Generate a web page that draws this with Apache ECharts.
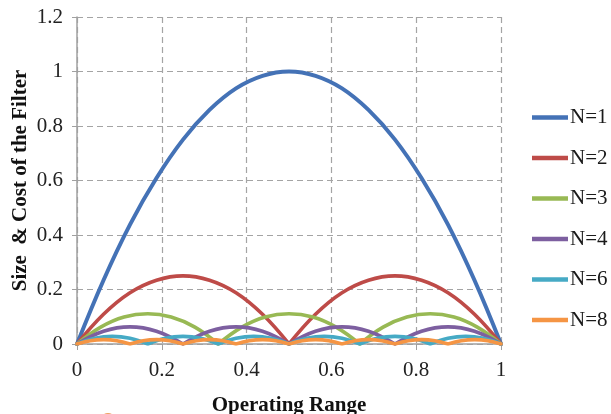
<!DOCTYPE html>
<html>
<head>
<meta charset="utf-8">
<script src="https://cdn.jsdelivr.net/npm/echarts@6/dist/echarts.min.js"></script>
<style>
  html, body { margin: 0; padding: 0; background: #fff; }
  #chart { width: 611px; height: 414px; }
</style>
</head>
<body>
<div id="chart"></div>
<script>
// Normalised size & cost of the filter across the operating range,
// one curve per number of stages N.
const seriesNames = ['N=1', 'N=2', 'N=3', 'N=4', 'N=6', 'N=8'];
const seriesColors = ['#4472b6', '#be4b48', '#98b954', '#7d5fa0', '#46aac5', '#f59544'];

const xN1 = [0, 0.0625, 0.125, 0.1875, 0.25, 0.3125, 0.375, 0.4375, 0.5, 0.5625, 0.625, 0.6875, 0.75, 0.8125, 0.875, 0.9375, 1];
const yN1 = [0, 0.234, 0.438, 0.609, 0.75, 0.859, 0.938, 0.984, 1, 0.984, 0.938, 0.859, 0.75, 0.609, 0.438, 0.234, 0];

const xN2 = [0, 0.0625, 0.125, 0.1875, 0.25, 0.3125, 0.375, 0.4375, 0.5, 0.5625, 0.625, 0.6875, 0.75, 0.8125, 0.875, 0.9375, 1];
const yN2 = [0, 0.109, 0.188, 0.234, 0.25, 0.234, 0.188, 0.109, 0, 0.109, 0.188, 0.234, 0.25, 0.234, 0.188, 0.109, 0];

const xN3 = [0, 0.056, 0.111, 0.167, 0.222, 0.278, 0.333, 0.389, 0.444, 0.5, 0.556, 0.611, 0.667, 0.722, 0.778, 0.833, 0.889, 0.944, 1];
const yN3 = [0, 0.062, 0.099, 0.111, 0.099, 0.062, 0, 0.062, 0.099, 0.111, 0.099, 0.062, 0, 0.062, 0.099, 0.111, 0.099, 0.062, 0];

const xN4 = [0, 0.0625, 0.125, 0.1875, 0.25, 0.3125, 0.375, 0.4375, 0.5, 0.5625, 0.625, 0.6875, 0.75, 0.8125, 0.875, 0.9375, 1];
const yN4 = [0, 0.047, 0.063, 0.047, 0, 0.047, 0.063, 0.047, 0, 0.047, 0.063, 0.047, 0, 0.047, 0.063, 0.047, 0];

const xN6 = [0, 0.042, 0.083, 0.125, 0.167, 0.208, 0.25, 0.292, 0.333, 0.375, 0.417, 0.458, 0.5, 0.542, 0.583, 0.625, 0.667, 0.708, 0.75, 0.792, 0.833, 0.875, 0.917, 0.958, 1];
const yN6 = [0, 0.021, 0.028, 0.021, 0, 0.021, 0.028, 0.021, 0, 0.021, 0.028, 0.021, 0, 0.021, 0.028, 0.021, 0, 0.021, 0.028, 0.021, 0, 0.021, 0.028, 0.021, 0];

const xN8 = [0, 0.031, 0.063, 0.094, 0.125, 0.156, 0.188, 0.219, 0.25, 0.281, 0.313, 0.344, 0.375, 0.406, 0.438, 0.469, 0.5, 0.531, 0.563, 0.594, 0.625, 0.656, 0.688, 0.719, 0.75, 0.781, 0.813, 0.844, 0.875, 0.906, 0.938, 0.969, 1];
const yN8 = [0, 0.012, 0.016, 0.012, 0, 0.012, 0.016, 0.012, 0, 0.012, 0.016, 0.012, 0, 0.012, 0.016, 0.012, 0, 0.012, 0.016, 0.012, 0, 0.012, 0.016, 0.012, 0, 0.012, 0.016, 0.012, 0, 0.012, 0.016, 0.012, 0];

const xTicks = [0, 0.2, 0.4, 0.6, 0.8, 1];
const yTicks = [0, 0.2, 0.4, 0.6, 0.8, 1, 1.2];

const allX = [xN1, xN2, xN3, xN4, xN6, xN8];
const allY = [yN1, yN2, yN3, yN4, yN6, yN8];

// Each arch is its own smoothed piece, so the curve keeps a sharp
// cusp wherever it touches zero inside the range.
function toPieces(xs, ys) {
  const out = [];
  const last = xs.length - 1;
  for (let i = 0; i <= last; i++) {
    out.push([xs[i], ys[i]]);
    if (ys[i] === 0 && i > 0 && i < last) {
      out.push([xs[i], '-']);
      out.push([xs[i], 0]);
    }
  }
  return out;
}

const serif = '"Liberation Serif", "DejaVu Serif", serif';
const gridDash = { color: '#a4a4a4', width: 1.2, type: [6, 4] };

const chart = echarts.init(document.getElementById('chart'), null, { renderer: 'canvas' });

chart.setOption({
  animation: false,
  backgroundColor: '#ffffff',
  grid: { left: 77, right: 110, top: 17, bottom: 70, outerBoundsMode: 'none', containLabel: false },
  legend: {
    orient: 'vertical',
    left: 532,
    top: 107,
    padding: 0,
    icon: 'rect',
    itemWidth: 36,
    itemHeight: 4.5,
    itemGap: 19.5,
    data: seriesNames,
    textStyle: { fontFamily: serif, fontSize: 21, color: '#1a1a1a', lineHeight: 20, padding: [0, 0, 0, -3] }
  },
  xAxis: {
    type: 'value',
    min: xTicks[0],
    max: xTicks[xTicks.length - 1],
    interval: 0.2,
    name: 'Operating Range',
    nameLocation: 'middle',
    nameGap: 51,
    nameMoveOverlap: false,
    nameTextStyle: { fontFamily: serif, fontSize: 21, fontWeight: 'bold', color: '#111' },
    axisLine: { show: true, lineStyle: { color: '#a0a0a0', width: 1.5 } },
    axisTick: { show: true, length: 6, lineStyle: { color: '#a0a0a0' } },
    axisLabel: { fontFamily: serif, fontSize: 21, color: '#222', margin: 16 },
    splitLine: { show: true, lineStyle: gridDash }
  },
  yAxis: {
    type: 'value',
    min: yTicks[0],
    max: yTicks[yTicks.length - 1],
    interval: 0.2,
    name: 'Size  & Cost of the Filter',
    nameLocation: 'middle',
    nameGap: 46,
    nameMoveOverlap: false,
    nameTextStyle: { fontFamily: serif, fontSize: 21, fontWeight: 'bold', color: '#111' },
    axisLine: { show: true, lineStyle: { color: '#a0a0a0', width: 1.5 } },
    axisTick: { show: true, length: 7, lineStyle: { color: '#a0a0a0', type: [5, 4] } },
    axisLabel: { fontFamily: serif, fontSize: 21, color: '#222', margin: 14 },
    splitLine: { show: true, lineStyle: gridDash }
  },
  graphic: [
    {
      type: 'circle',
      shape: { cx: 108, cy: 421, r: 8 },
      style: { fill: '#f0a060' },
      silent: true
    }
  ],
  series: seriesNames.map((name, k) => ({
    name: name,
    type: 'line',
    data: toPieces(allX[k], allY[k]),
    smooth: 0.4,
    showSymbol: false,
    symbol: 'none',
    connectNulls: false,
    color: seriesColors[k],
    lineStyle: { width: k === 0 ? 4 : 3.6, color: seriesColors[k], cap: 'round', join: 'round' }
  }))
});
</script>
</body>
</html>
